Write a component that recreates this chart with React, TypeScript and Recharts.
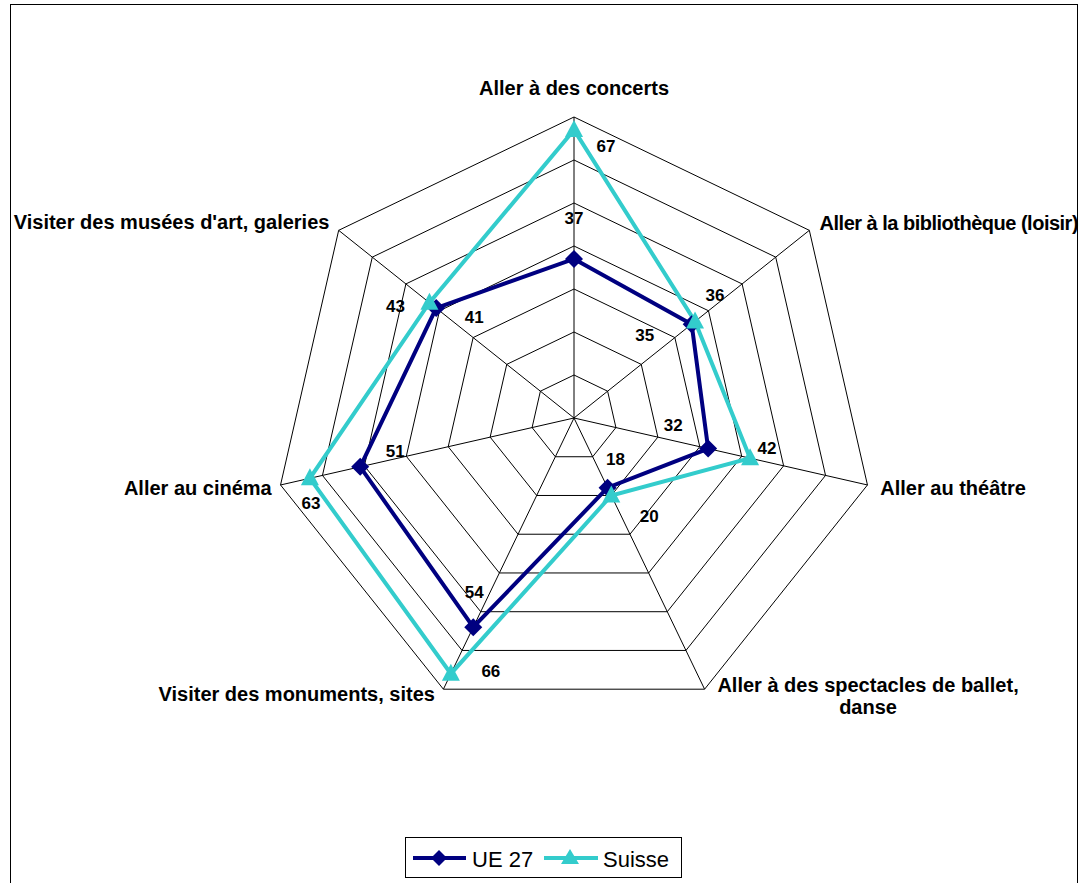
import { RadarChart, Radar, PolarGrid, PolarAngleAxis, PolarRadiusAxis, Legend } from "recharts";

const CATEGORIES = [
  "Aller à des concerts",
  "Aller à la bibliothèque (loisir)",
  "Aller au théâtre",
  "Aller à des spectacles de ballet, danse",
  "Visiter des monuments, sites",
  "Aller au cinéma",
  "Visiter des musées d'art, galeries",
];
const UE27 = [37, 35, 32, 18, 54, 51, 41];
const SUISSE = [67, 36, 42, 20, 66, 63, 43];

const NAVY = "#000080";
const TURQ = "#33CCCC";
const FONT = "'Liberation Sans', Arial, sans-serif";

const data = CATEGORIES.map((name, i) => ({ name, ue: UE27[i], ch: SUISSE[i] }));

// label offsets (from marker centre) for each series
const UE_OFF = [[0, -40], [-47, 11], [-35, -23], [8, -28], [1, -35], [35, -15], [38, 9]];
const CH_OFF = [[32, 17], [20, -26], [17, -10], [38, 21], [40, -2], [1, 25], [-34, 4]];

// category label placement relative to the tick point
const TICK_POS: { dx: number; dy: number; anchor: "start" | "middle" | "end"; ls?: number; lines?: string[] }[] = [
  { dx: 0, dy: -21, anchor: "middle" },
  { dx: 4, dy: -2, anchor: "start", ls: -0.5 },
  { dx: 5, dy: 1, anchor: "start" },
  { dx: 160, dy: -11, anchor: "middle", lines: ["Aller à des spectacles de ballet,", "danse"] },
  { dx: -5, dy: -2, anchor: "end" },
  { dx: -1, dy: 1, anchor: "end" },
  { dx: -3, dy: -3, anchor: "end" },
];

const catStyle = { fontFamily: FONT, fontWeight: 700, fontSize: 20 };
const numStyle = { fontFamily: FONT, fontWeight: 700, fontSize: 17 };

function CategoryTick(props: any) {
  const { x, y, payload, index } = props;
  const p = TICK_POS[index] || { dx: 0, dy: 0, anchor: "middle" };
  const lines = p.lines || [payload.value];
  return (
    <g>
      {lines.map((t, k) => (
        <text
          key={k}
          x={x + p.dx}
          y={y + p.dy + k * 22}
          textAnchor={p.anchor}
          dominantBaseline="central"
          fill="#000"
          style={{ ...catStyle, letterSpacing: p.ls || 0 }}
        >
          {t}
        </text>
      ))}
    </g>
  );
}

function DiamondDot(props: any) {
  const { cx, cy, index, payload } = props;
  const [dx, dy] = UE_OFF[index];
  const s = 9;
  return (
    <g key={`ue-${index}`}>
      <polygon points={`${cx},${cy - s} ${cx + s},${cy} ${cx},${cy + s} ${cx - s},${cy}`} fill={NAVY} />
      <text x={cx + dx} y={cy + dy} textAnchor="middle" dominantBaseline="central" fill="#000" style={numStyle}>
        {payload.ue}
      </text>
    </g>
  );
}

function TriangleDot(props: any) {
  const { cx, cy, index, payload } = props;
  const [dx, dy] = CH_OFF[index];
  return (
    <g key={`ch-${index}`}>
      <polygon points={`${cx},${cy - 10} ${cx + 9},${cy + 7} ${cx - 9},${cy + 7}`} fill={TURQ} />
      <text x={cx + dx} y={cy + dy} textAnchor="middle" dominantBaseline="central" fill="#000" style={numStyle}>
        {payload.ch}
      </text>
    </g>
  );
}

function LegendBox() {
  return (
    <div
      style={{
        width: 275,
        height: 39,
        border: "1px solid #000",
        background: "#fff",
        boxSizing: "content-box",
      }}
    >
      <svg width={275} height={39}>
        <line x1={7} y1={20} x2={60} y2={20} stroke={NAVY} strokeWidth={4} />
        <polygon points="33,12 41,20 33,28 25,20" fill={NAVY} />
        <text x={66} y={21} dominantBaseline="central" style={{ fontFamily: FONT, fontSize: 22 }}>UE 27</text>
        <line x1={138} y1={20} x2={192} y2={20} stroke={TURQ} strokeWidth={4} />
        <polygon points="164,11 173,26 155,26" fill={TURQ} />
        <text x={197} y={21} dominantBaseline="central" style={{ fontFamily: FONT, fontSize: 22 }}>Suisse</text>
      </svg>
    </div>
  );
}

export default function App() {
  return (
    <div style={{ position: "absolute", left: 0, top: 0, width: 1086, height: 883, overflow: "hidden", background: "#fff" }}>
      <div style={{ position: "absolute", left: 0, top: 0 }}>
        <RadarChart width={1086} height={883} data={data} cx={574} cy={418} outerRadius={301} startAngle={90} endAngle={-270}>
          <PolarGrid gridType="polygon" stroke="#000" strokeWidth={1} strokeOpacity={1} />
          <PolarAngleAxis dataKey="name" tick={CategoryTick} tickLine={false} axisLine={false} />
          <PolarRadiusAxis domain={[0, 70]} tickCount={8} tick={false} axisLine={false} angle={90} />
          <Radar
            name="UE 27"
            dataKey="ue"
            stroke={NAVY}
            strokeWidth={4}
            fill="none"
            fillOpacity={0}
            dot={DiamondDot}
            isAnimationActive={false}
          />
          <Radar
            name="Suisse"
            dataKey="ch"
            stroke={TURQ}
            strokeWidth={4}
            fill="none"
            fillOpacity={0}
            dot={TriangleDot}
            isAnimationActive={false}
          />
          <Legend
            content={LegendBox}
            wrapperStyle={{ position: "absolute", left: 405, top: 837, width: 277, height: 41 }}
          />
        </RadarChart>
      </div>
      <div
        style={{
          position: "absolute",
          left: 10,
          top: 4,
          width: 1066,
          height: 900,
          border: "1px solid #000",
          pointerEvents: "none",
        }}
      />
    </div>
  );
}
